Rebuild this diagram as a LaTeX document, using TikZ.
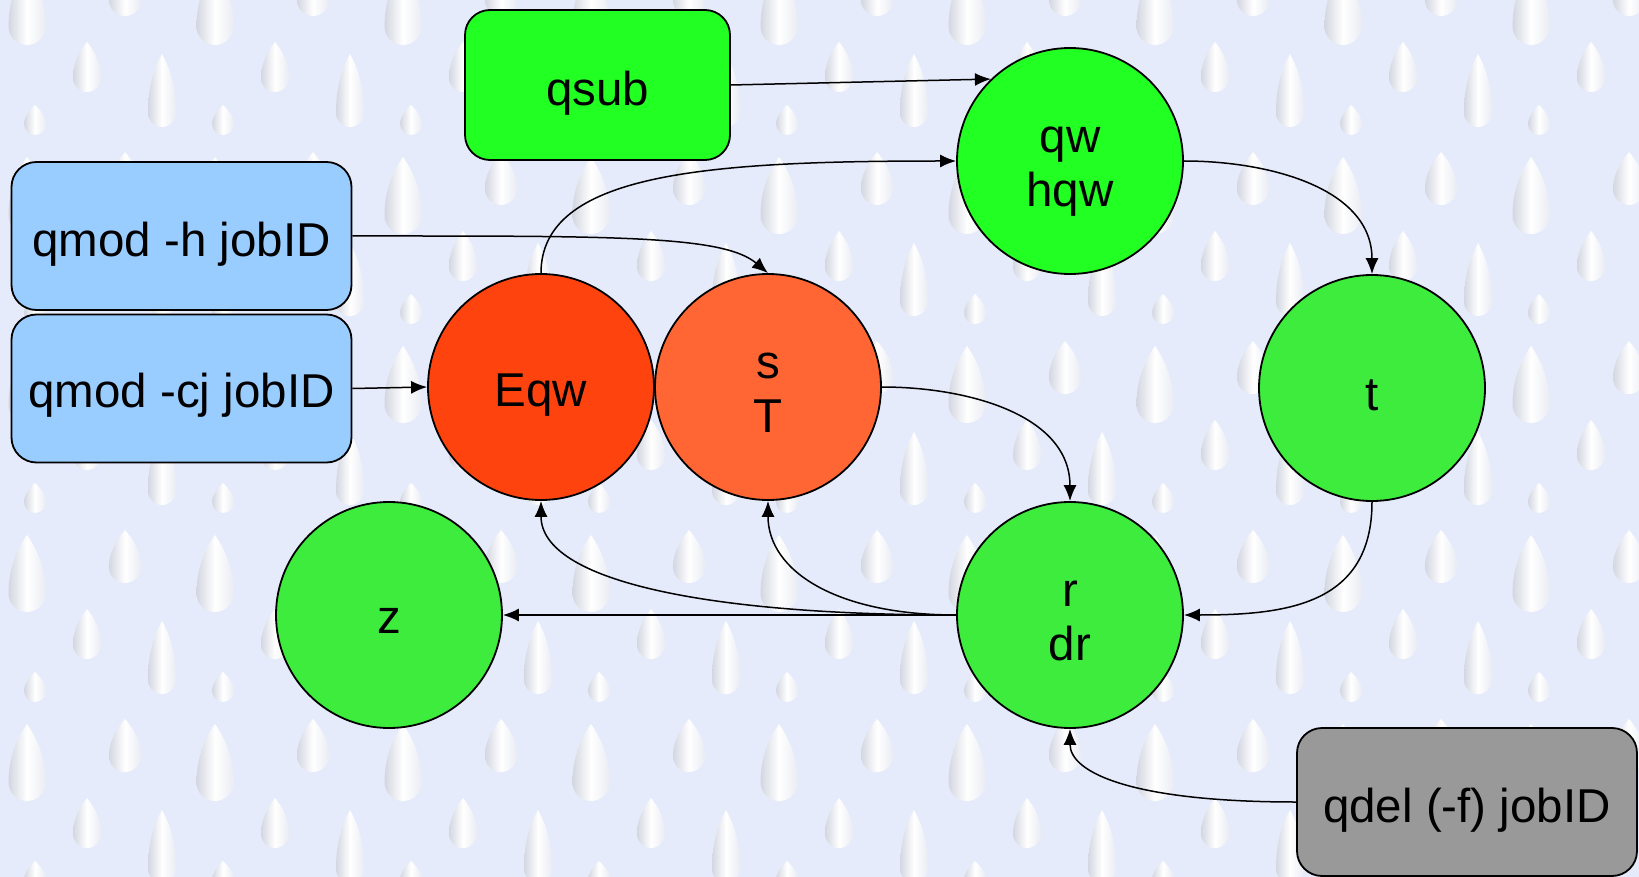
\documentclass[tikz,border=0pt]{standalone}
\usepackage{fontspec}
\setmainfont{Liberation Sans}
\usetikzlibrary{arrows.meta}
\definecolor{bg}{RGB}{230,235,251}
\definecolor{dropL}{RGB}{212,215,225}
\definecolor{dropR}{RGB}{234,236,243}
\definecolor{brightgreen}{RGB}{34,255,34}
\definecolor{stategreen}{RGB}{62,236,62}
\definecolor{errred}{RGB}{255,67,14}
\definecolor{susporange}{RGB}{255,102,51}
\definecolor{cmdblue}{RGB}{153,204,255}
\definecolor{cmdgray}{RGB}{153,153,153}
% #1 x of centre, #2 screen y of bottom, #3 width, #4 height
\newcommand\rdrop[4]{%
  \begin{scope}[shift={(#1,-#2)}]
    \pgfmathsetmacro\rr{#3/2}
    \path[dropstyle] (0,#4) .. controls ({0.2*#3},{0.86*#4}) and (\rr,{0.62*#4}) .. (\rr,\rr)
      .. controls (\rr,{0.448*\rr}) and ({0.552*\rr},0) .. (0,0)
      .. controls ({-0.552*\rr},0) and (-\rr,{0.448*\rr}) .. (-\rr,\rr)
      .. controls (-\rr,{0.62*#4}) and ({-0.2*#3},{0.86*#4}) .. cycle;
  \end{scope}}
\begin{document}
\begin{tikzpicture}[x=1pt,y=1pt,
  lbl/.style={font=\fontsize{47.5}{54}\selectfont, align=center, text=black, inner sep=0pt},
  txt/.style 2 args={label={[lbl,yshift=#1pt]center:{#2}}},
  statenode/.style={circle, draw=black, line width=1.8pt, minimum size=226pt, inner sep=0pt},
  cmdbox/.style={rectangle, rounded corners=25pt, draw=black, line width=1.8pt, inner sep=0pt, minimum width=340pt, minimum height=148pt},
  conn/.style={draw=black, line width=1.5pt, -{Latex[length=16pt,width=13pt]}},
  dropstyle/.style={left color=dropL, right color=dropR, middle color=white}]
\useasboundingbox (0,0) rectangle (1639,-877);
\fill[bg] (0,0) rectangle (1639,-877);
\begin{scope}
  \clip (0,0) rectangle (1639,-877);
  \foreach \i in {0,...,8}{
    \foreach \j in {0,...,4}{
      \pgfmathsetmacro\ox{188*\i}
      \pgfmathsetmacro\oy{189*\j}
      \pgfmathsetmacro\ax{\ox+27}\pgfmathsetmacro\ay{\oy+45}
      \pgfmathsetmacro\ex{\ox+125}\pgfmathsetmacro\ey{\oy+16}
      \pgfmathsetmacro\bx{\ox+87}\pgfmathsetmacro\by{\oy+92}
      \pgfmathsetmacro\cx{\ox+162}\pgfmathsetmacro\cy{\oy+127}
      \pgfmathsetmacro\dx{\ox+35}\pgfmathsetmacro\dy{\oy+135}
      \rdrop{\ax}{\ay}{37}{77}
      \rdrop{\ex}{\ey}{32}{53}
      \rdrop{\bx}{\by}{28}{50}
      \rdrop{\cx}{\cy}{28}{73}
      \rdrop{\dx}{\dy}{22}{30}
    }
  }
\end{scope}

\node[cmdbox, fill=brightgreen, minimum width=265pt, minimum height=150pt, txt={-8}{qsub}] (qsub) at (597.5,-85) {};
\node[cmdbox, fill=cmdblue, txt={-8.5}{qmod -h jobID}] (qmodh) at (181.5,-236) {};
\node[cmdbox, fill=cmdblue, txt={-6.5}{qmod -cj jobID}] (qmodcj) at (181.5,-388.5) {};
\node[cmdbox, fill=cmdgray, txt={-8}{qdel (-f) jobID}] (qdel) at (1467,-802) {};

\node[statenode, fill=errred, txt={-8}{Eqw}] (Eqw) at (541,-387) {};
\node[statenode, fill=susporange, txt={-6}{s\\T}] (sT) at (768,-387) {};
\node[statenode, fill=brightgreen, txt={-11}{qw\\hqw}] (qw) at (1070,-161) {};
\node[statenode, fill=stategreen, txt={-7}{t}] (t) at (1372,-388) {};
\node[statenode, fill=stategreen, txt={-6}{r\\dr}] (r) at (1070,-615) {};
\node[statenode, fill=stategreen, txt={-5.5}{z}] (z) at (389,-615) {};

\draw[conn] (qsub.east) -- (qw.134);
\draw[conn] (Eqw.north) .. controls +(0,100) and +(-250,0) .. (qw.west);
\draw[conn] (qmodh.east) .. controls +(260,0) and +(-45,38) .. (sT.north);
\draw[conn] (qmodcj.east) -- (Eqw.west);
\draw[conn] (qw.east) to[out=0,in=90] (t.north);
\draw[conn] (sT.east) to[out=0,in=90] (r.north);
\draw[conn] (t.south) to[out=-90,in=0,looseness=1.2] (r.east);
\draw[conn] (r.west) -- (z.east);
\draw[conn] (r.west) .. controls +(-250,0) and +(0,-80) .. (Eqw.south);
\draw[conn] (r.west) .. controls +(-120,0) and +(0,-70) .. (sT.south);
\draw[conn] (qdel.west) .. controls +(-160,0) and +(0,-45) .. (r.south);
\end{tikzpicture}
\end{document}
